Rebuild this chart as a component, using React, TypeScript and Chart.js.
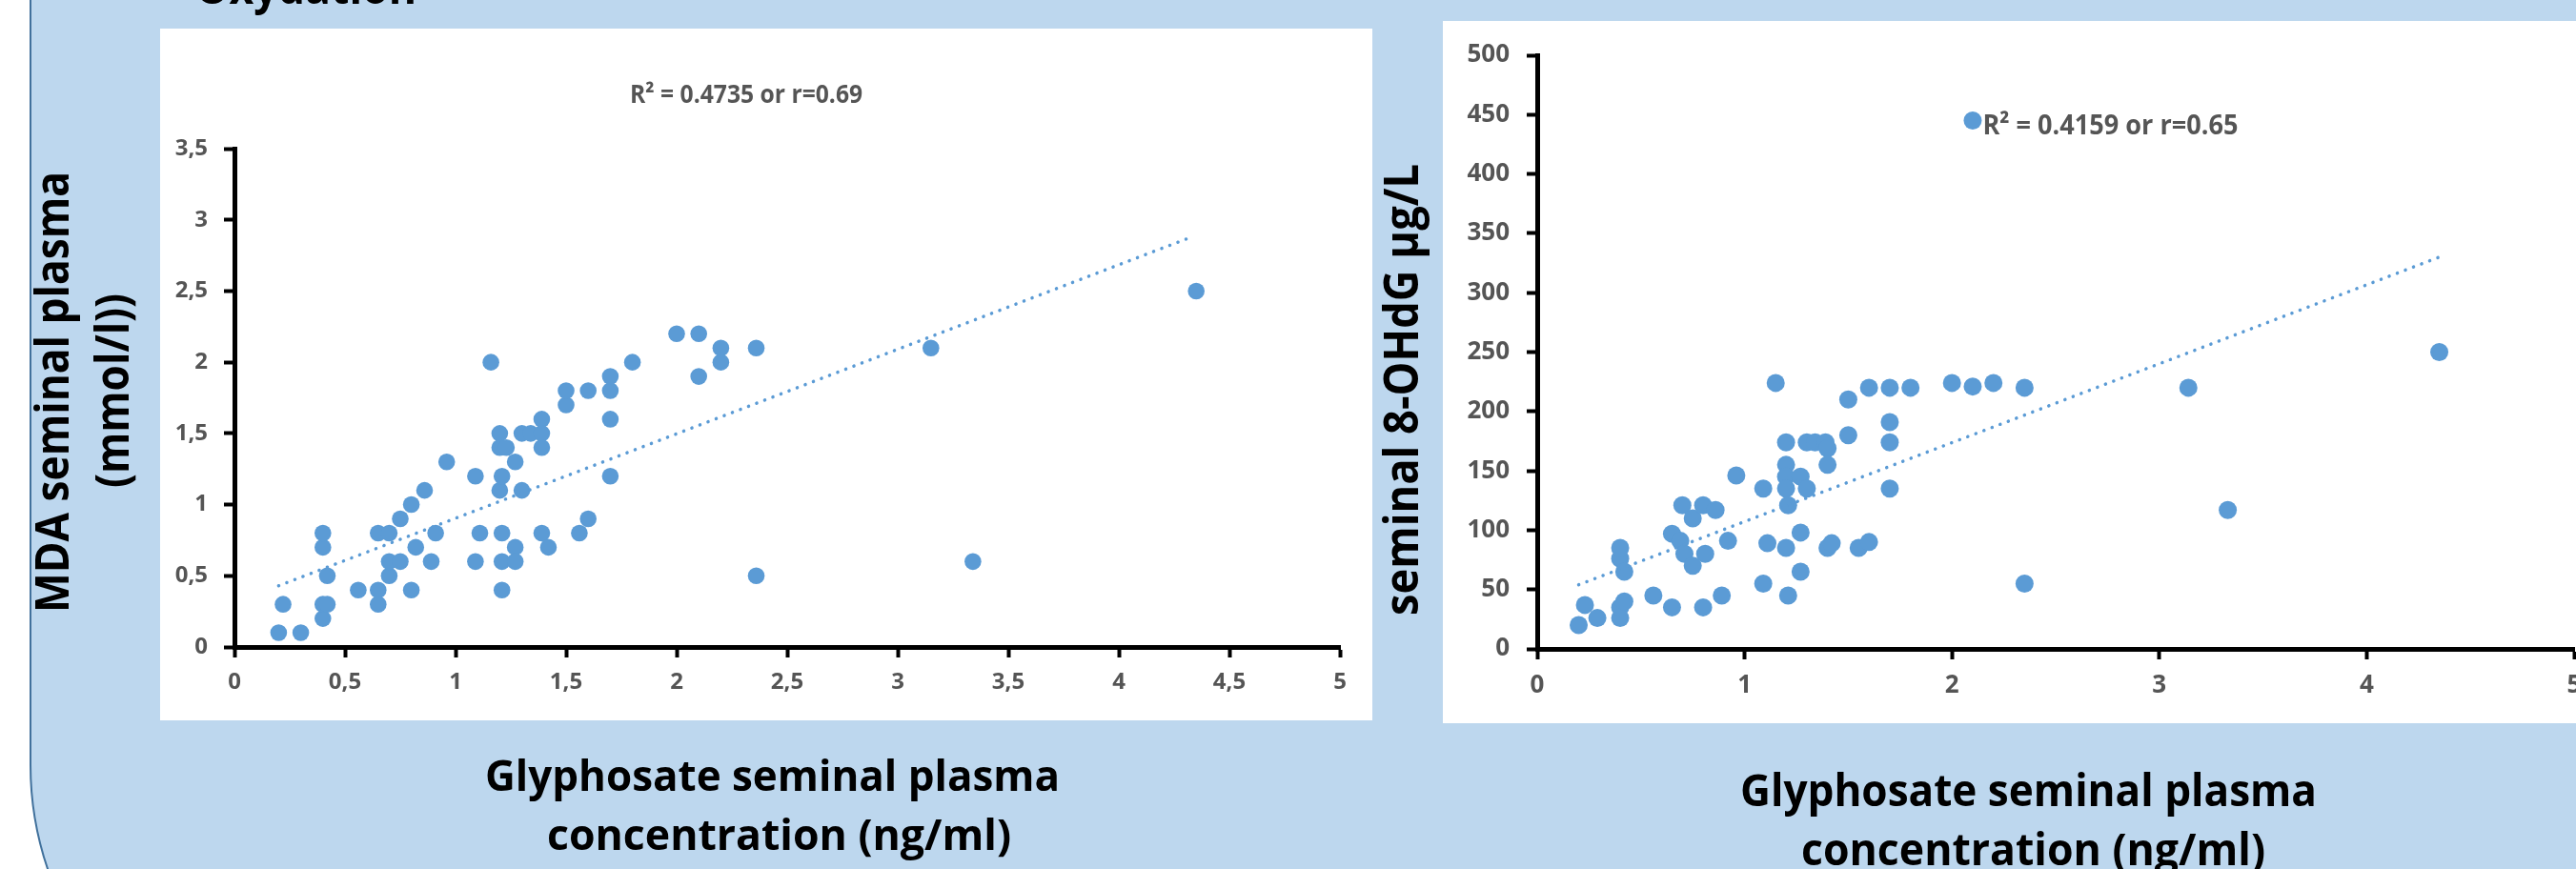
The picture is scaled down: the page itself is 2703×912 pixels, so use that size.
import React, { useEffect, useRef } from "react";
import { Chart, registerables } from "chart.js";

Chart.register(...registerables);

// ---------- Left chart: glyphosate (ng/ml) vs MDA (mmol/l) ----------
const mdaGlyphosate = [
  0.2, 0.3, 0.22, 0.4, 0.4, 0.42, 0.42, 0.4, 0.4, 0.56,
  0.65, 0.65, 0.65, 0.7, 0.7, 0.7, 0.75, 0.75, 0.8, 0.8,
  0.82, 0.86, 0.89, 0.91, 0.96, 1.09, 1.09, 1.11, 1.16, 1.2,
  1.2, 1.2, 1.21, 1.21, 1.21, 1.21, 1.23, 1.27, 1.27, 1.27,
  1.3, 1.3, 1.34, 1.39, 1.39, 1.39, 1.39, 1.42, 1.5, 1.5,
  1.56, 1.6, 1.6, 1.7, 1.7, 1.7, 1.7, 1.8, 2.0, 2.1,
  2.1, 2.2, 2.2, 2.36, 2.36, 3.15, 3.34, 4.35,
];
const mdaValues = [
  0.1, 0.1, 0.3, 0.2, 0.3, 0.3, 0.5, 0.7, 0.8, 0.4,
  0.4, 0.3, 0.8, 0.8, 0.5, 0.6, 0.6, 0.9, 0.4, 1.0,
  0.7, 1.1, 0.6, 0.8, 1.3, 1.2, 0.6, 0.8, 2.0, 1.5,
  1.4, 1.1, 1.2, 0.8, 0.6, 0.4, 1.4, 1.3, 0.7, 0.6,
  1.1, 1.5, 1.5, 1.6, 1.5, 1.4, 0.8, 0.7, 1.7, 1.8,
  0.8, 1.8, 0.9, 1.8, 1.9, 1.6, 1.2, 2.0, 2.2, 2.2,
  1.9, 2.1, 2.0, 2.1, 0.5, 2.1, 0.6, 2.5,
];
const mdaTrendX = [0.2, 4.33];
const mdaTrendY = [0.43, 2.88];
const mdaXTickLabels = ["0", "0,5", "1", "1,5", "2", "2,5", "3", "3,5", "4", "4,5", "5"];
const mdaYTickLabels = ["0", "0,5", "1", "1,5", "2", "2,5", "3", "3,5"];
const mdaR2Text = "R² = 0.4735 or r=0.69";

// ---------- Right chart: glyphosate (ng/ml) vs 8-OHdG (µg/L) ----------
const ohdgGlyphosate = [
  0.2, 0.23, 0.29, 0.4, 0.4, 0.42, 0.4, 0.4, 0.42, 0.56,
  0.65, 0.65, 0.69, 0.7, 0.71, 0.75, 0.75, 0.8, 0.8, 0.81,
  0.86, 0.89, 0.92, 0.96, 1.09, 1.09, 1.11, 1.15, 1.2, 1.2,
  1.2, 1.2, 1.21, 1.2, 1.21, 1.27, 1.27, 1.27, 1.3, 1.3,
  1.34, 1.39, 1.4, 1.4, 1.4, 1.42, 1.5, 1.5, 1.55, 1.6,
  1.6, 1.7, 1.7, 1.7, 1.7, 1.8, 2.0, 2.1, 2.1, 2.2,
  2.35, 2.35, 3.14, 3.33, 4.35,
];
const ohdgValues = [
  20, 37, 26, 26, 35, 40, 76, 85, 65, 45,
  35, 97, 91, 121, 80, 110, 70, 121, 35, 80,
  117, 45, 91, 146, 135, 55, 89, 224, 174, 155,
  145, 135, 121, 85, 45, 145, 98, 65, 135, 174,
  174, 174, 169, 155, 85, 89, 210, 180, 85, 220,
  90, 220, 191, 174, 135, 220, 224, 221, 445, 224,
  220, 55, 220, 117, 250,
];
const ohdgTrendX = [0.2, 4.35];
const ohdgTrendY = [54, 330];
const ohdgXTickLabels = ["0", "1", "2", "3", "4", "5"];
const ohdgYTickLabels = ["0", "50", "100", "150", "200", "250", "300", "350", "400", "450", "500"];
const ohdgR2Text = "R² = 0.4159 or r=0.65";

const MARKER = "#5B9BD5";
const TICK_GRAY = "#555555";
const FONT = "'Open Sans', 'DejaVu Sans', sans-serif";

const r2LabelPlugin = {
  id: "r2label",
  afterDatasetsDraw(chart: any, _args: any, opts: any) {
    if (!opts || !opts.text) return;
    const { ctx } = chart;
    const xs = chart.scales.x;
    const ys = chart.scales.y;
    ctx.save();
    ctx.font = `${opts.weight} ${opts.size}px ${FONT}`;
    ctx.fillStyle = opts.color;
    ctx.textAlign = opts.align;
    ctx.textBaseline = "middle";
    ctx.fillText(opts.text, xs.getPixelForValue(opts.x), ys.getPixelForValue(opts.y), opts.maxWidth);
    ctx.restore();
  },
};

type PanelCfg = {
  xs: number[];
  ys: number[];
  tx: number[];
  ty: number[];
  xMax: number;
  xStep: number;
  xLabels: string[];
  yMax: number;
  yStep: number;
  yLabels: string[];
  radius: number;
  tickSize: number;
  padTop: number;
  padRight: number;
  yWidth: number;
  xHeight: number;
  yPad: number;
  xPad: number;
  label: any;
};

function axisGrid() {
  return {
    display: true,
    drawOnChartArea: false,
    drawTicks: true,
    tickLength: 11,
    tickWidth: 4,
    tickColor: "#000000",
  };
}

function axisBorder() {
  return { display: true, color: "#000000", width: 5 };
}

function buildConfig(p: PanelCfg): any {
  return {
    type: "scatter",
    data: {
      datasets: [
        {
          data: p.tx.map((x, i) => ({ x, y: p.ty[i] })),
          showLine: true,
          pointRadius: 0,
          pointHoverRadius: 0,
          borderColor: MARKER,
          borderWidth: 3.5,
          borderDash: [0.1, 9],
          borderCapStyle: "round",
          fill: false,
        },
        {
          data: p.xs.map((x, i) => ({ x, y: p.ys[i] })),
          pointRadius: p.radius,
          pointHoverRadius: p.radius,
          backgroundColor: MARKER,
          borderColor: MARKER,
          borderWidth: 0,
          pointBorderWidth: 0,
          showLine: false,
        },
      ],
    },
    options: {
      responsive: false,
      maintainAspectRatio: false,
      animation: false,
      devicePixelRatio: 1,
      events: [],
      layout: {
        autoPadding: false,
        padding: { top: p.padTop, right: p.padRight, left: 0, bottom: 0 },
      },
      plugins: {
        legend: { display: false },
        tooltip: { enabled: false },
        title: { display: false },
        r2label: p.label,
      },
      scales: {
        x: {
          type: "linear",
          position: "bottom",
          min: 0,
          max: p.xMax,
          ticks: {
            stepSize: p.xStep,
            autoSkip: false,
            maxRotation: 0,
            color: TICK_GRAY,
            font: { family: FONT, size: p.tickSize, weight: "bold" },
            padding: p.xPad,
            callback: (_v: any, i: number) => p.xLabels[i] ?? "",
          },
          grid: axisGrid(),
          border: axisBorder(),
          afterFit: (s: any) => {
            s.height = p.xHeight;
          },
        },
        y: {
          type: "linear",
          position: "left",
          min: 0,
          max: p.yMax,
          ticks: {
            stepSize: p.yStep,
            autoSkip: false,
            color: TICK_GRAY,
            font: { family: FONT, size: p.tickSize, weight: "bold" },
            padding: p.yPad,
            callback: (_v: any, i: number) => p.yLabels[i] ?? "",
          },
          grid: axisGrid(),
          border: axisBorder(),
          afterFit: (s: any) => {
            s.width = p.yWidth;
          },
        },
      },
    },
    plugins: [r2LabelPlugin],
  };
}

function ChartCanvas({ width, height, cfg }: { width: number; height: number; cfg: PanelCfg }) {
  const ref = useRef<HTMLCanvasElement | null>(null);
  useEffect(() => {
    if (!ref.current) return;
    const chart = new Chart(ref.current, buildConfig(cfg));
    return () => chart.destroy();
  }, []);
  return <canvas ref={ref} width={width} height={height} style={{ width, height, display: "block" }} />;
}

const leftCfg: PanelCfg = {
  xs: mdaGlyphosate,
  ys: mdaValues,
  tx: mdaTrendX,
  ty: mdaTrendY,
  xMax: 5,
  xStep: 0.5,
  xLabels: mdaXTickLabels,
  yMax: 3.5,
  yStep: 0.5,
  yLabels: mdaYTickLabels,
  radius: 8.8,
  tickSize: 24,
  padTop: 126,
  padRight: 34,
  yWidth: 78,
  xHeight: 77,
  yPad: 17,
  xPad: 12,
  label: { text: mdaR2Text, x: 2.315, y: 3.868, size: 26, weight: "bold", color: TICK_GRAY, align: "center", maxWidth: 244 },
};

const rightCfg: PanelCfg = {
  xs: ohdgGlyphosate,
  ys: ohdgValues,
  tx: ohdgTrendX,
  ty: ohdgTrendY,
  xMax: 5,
  xStep: 1,
  xLabels: ohdgXTickLabels,
  yMax: 500,
  yStep: 50,
  yLabels: ohdgYTickLabels,
  radius: 9.5,
  tickSize: 26,
  padTop: 36,
  padRight: 113,
  yWidth: 99,
  xHeight: 78,
  yPad: 18,
  xPad: 12,
  label: { text: ohdgR2Text, x: 2.148, y: 440, size: 29, weight: "bold", color: TICK_GRAY, align: "left", maxWidth: 268 },
};

export default function App() {
  return (
    <div
      style={{
        position: "fixed",
        left: 0,
        top: 0,
        width: 2703,
        height: 912,
        overflow: "hidden",
        background: "#ffffff",
      }}
    >
      <div
        style={{
          position: "absolute",
          left: 31,
          top: -600,
          width: 3400,
          height: 600 + 1142,
          background: "#BDD7EE",
          border: "2px solid #41719C",
          borderRadius: 339,
          boxSizing: "border-box",
        }}
      />
      <div style={{ position: "absolute", left: 168, top: 30, width: 1272, height: 726, background: "#ffffff" }}>
        <ChartCanvas width={1272} height={726} cfg={leftCfg} />
      </div>
      <div style={{ position: "absolute", left: 1514, top: 22, width: 1300, height: 737, background: "#ffffff" }}>
        <ChartCanvas width={1300} height={737} cfg={rightCfg} />
      </div>
      <svg
        width={2703}
        height={912}
        style={{ position: "absolute", left: 0, top: 0, pointerEvents: "none" }}
        fontFamily={FONT}
        fontWeight={700}
        fill="#000000"
      >
        <text x={205} y={4} fontSize={48} textLength={232} lengthAdjust="spacingAndGlyphs">Oxydation</text>
        <text x={509} y={830} fontSize={45} textLength={603} lengthAdjust="spacingAndGlyphs">Glyphosate seminal plasma</text>
        <text x={574} y={892} fontSize={45} textLength={487} lengthAdjust="spacingAndGlyphs">concentration (ng/ml)</text>
        <text x={1826} y={846} fontSize={46} textLength={605} lengthAdjust="spacingAndGlyphs">Glyphosate seminal plasma</text>
        <text x={1890} y={908} fontSize={46} textLength={487} lengthAdjust="spacingAndGlyphs">concentration (ng/ml)</text>
        <text transform="translate(72 643) rotate(-90)" fontSize={48} textLength={463} lengthAdjust="spacingAndGlyphs">MDA seminal plasma</text>
        <text transform="translate(135 512) rotate(-90)" fontSize={48} textLength={204} lengthAdjust="spacingAndGlyphs">(mmol/l))</text>
        <text transform="translate(1488 646) rotate(-90)" fontSize={51} textLength={474} lengthAdjust="spacingAndGlyphs">seminal 8-OHdG µg/L</text>
      </svg>
    </div>
  );
}
